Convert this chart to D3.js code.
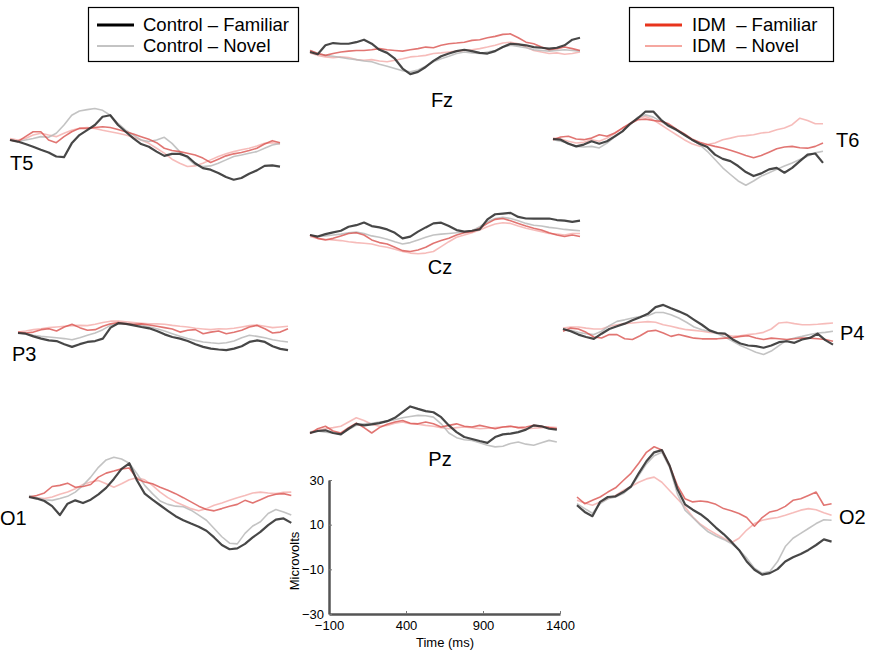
<!DOCTYPE html>
<html lang="en">
	<head>
		<meta charset="utf-8">
		<title>ERP waveforms</title>
		<script type="text/javascript" src="https://cdn.jsdelivr.net/npm/d3@7"></script>
		<style type="text/css">
			body{
				margin: 0;
				background: white;
			}
			svg text{
				font-family: "Liberation Sans", Arial, sans-serif;
				fill: black;
			}
			.lab{
				font-size: 20px;
			}
			.leg{
				font-size: 18.5px;
				white-space: pre;
			}
			.scale text{
				font-size: 13px;
			}
		</style>
	</head>
	<body>
		<div class="chart"></div>
		<script type="text/javascript">

			// sample times (ms), one every 50 ms
			var times = [-100,-50,0,50,100,150,200,250,300,350,400,450,500,550,600,650,700,750,800,850,
				900,950,1000,1050,1100,1150,1200,1250,1300,1350,1400,1450,1500,1550,1600,1650];

			var conditions = ["Control \u2013 Familiar", "Control \u2013 Novel", "IDM  \u2013 Familiar", "IDM  \u2013 Novel"];
			var scaleY = [30, 10, -10, -30];
			var scaleX = [-100, 400, 900, 1400];

			// microvolts, per electrode and condition
			var fzCtrlFam = [0,-1.0,3.0,4.0,3.7,3.7,4.4,5.5,3.7,1.0,-0.4,-3.0,-7.4,-9.9,-8.9,-6.7,-4.0,-1.9,-0.7,0.4,1.0,0.4,-0.4,-0.7,0.4,2.2,3.7,3.4,3.0,2.2,1.9,1.5,1.9,3.0,5.5,6.4];
			var fzCtrlNov = [0.7,-0.7,-1.5,-1.9,-2.5,-3.0,-3.4,-4.0,-4.4,-5.5,-6.4,-7.4,-8.4,-8.9,-8.1,-6.4,-4.4,-3.0,-1.9,-0.7,0,-0.4,-0.7,0,0.7,2.2,3.0,2.5,1.9,1.0,0.7,0.4,0.7,1.0,0.7,0.4];
			var fzIdmFam = [0.7,-0.7,-1.5,-0.7,0,0.4,0.7,0.7,1.0,1.5,1.0,0.7,0.4,1.0,1.5,2.2,1.9,3.0,3.7,4.0,4.4,5.2,5.5,6.4,7.0,7.9,8.1,6.4,4.4,3.7,2.2,1.0,1.5,2.2,1.5,0.7];
			var fzIdmNov = [-0.4,-1.5,-2.2,-2.5,-2.2,-2.5,-3.4,-3.7,-3.4,-4.0,-4.4,-3.7,-3.0,-2.2,-1.9,-1.5,-0.7,-0.4,0,0.4,0.7,1.0,1.5,2.2,3.0,4.0,4.4,3.7,2.2,0.7,0,-0.7,-0.4,-1.0,-0.7,0];

			var t5CtrlFam = [0,-0.7,-1.8,-3.0,-4.4,-5.6,-7.4,-7.7,-1.5,2.2,4.4,6.7,10.4,11.1,6.7,3.7,0.7,-1.8,-3.0,-5.2,-7.1,-6.2,-6.2,-7.4,-10.4,-12.6,-13.3,-14.8,-16.6,-17.8,-17.0,-15.1,-13.6,-11.6,-11.4,-11.9];
			var t5CtrlNov = [0,-0.7,0,0.7,1.5,1.2,3.0,6.7,11.1,13.0,13.6,14.1,13.3,11.1,7.4,4.4,2.2,0,-0.7,0,1.2,-1.5,-5.2,-8.1,-11.1,-11.9,-11.6,-10.4,-8.9,-7.4,-6.7,-5.9,-5.2,-3.7,-2.2,-1.5];
			var t5IdmFam = [0,-0.7,1.5,3.7,3.7,0,-1.2,1.5,3.7,5.2,5.2,5.6,5.9,5.6,4.7,3.7,2.7,1.5,0.3,-1.2,-3.7,-4.7,-5.2,-5.9,-6.7,-8.1,-10.1,-8.6,-7.1,-6.2,-5.6,-4.7,-3.7,-1.8,-0.3,-1.2];
			var t5IdmNov = [0.7,0,0.7,2.2,3.0,2.2,1.5,3.0,4.4,5.2,5.6,5.2,4.4,3.7,3.0,2.2,1.2,0,-1.5,-3.7,-5.9,-8.6,-10.4,-11.9,-11.6,-10.4,-8.9,-7.4,-6.2,-5.2,-4.4,-3.7,-2.7,-1.5,-1.2,-1.8];

			var t6CtrlFam = [0,-0.3,-2.1,-3.3,-2.5,-1.0,-2.1,-1.0,1.2,3.4,6.8,9.3,12.3,12.3,8.6,5.9,4.1,1.9,-0.3,-2.1,-3.6,-7.0,-8.9,-9.9,-12.1,-14.8,-16.6,-15.4,-13.6,-12.9,-15.1,-12.9,-9.9,-7.0,-6.5,-10.7];
			var t6CtrlNov = [-0.3,-1.0,-1.8,-3.3,-3.6,-3.3,-4.0,-1.8,0.9,3.4,6.4,9.8,10.8,9.8,7.9,5.6,3.9,1.9,-0.3,-2.5,-5.5,-9.2,-12.9,-15.9,-18.8,-20.7,-18.8,-16.6,-15.1,-13.6,-12.1,-10.7,-9.2,-7.7,-6.2,-5.5];
			var t6IdmFam = [-0.3,0.9,1.2,0,-0.3,0.4,1.9,1.2,2.7,4.9,6.8,8.6,8.9,8.3,7.9,6.8,4.4,2.4,0,-1.5,-2.5,-3.3,-4.0,-5.0,-6.2,-7.4,-8.4,-7.4,-5.9,-4.4,-3.6,-3.3,-3.9,-4.1,-3.3,-1.8];
			var t6IdmNov = [0.4,0,-1.0,-1.8,-1.5,-0.3,-1.0,0.4,2.4,4.9,7.1,9.3,10.1,8.6,6.4,4.1,1.9,-0.3,-2.1,-3.3,-2.5,-1.8,-0.3,0.4,1.2,1.5,1.9,2.7,3.0,4.1,4.9,6.4,9.3,8.3,6.8,6.8];

			var czCtrlFam = [0,-0.7,0.4,1.2,1.9,3.7,4.4,5.6,4.0,3.4,2.5,1.0,-1.5,-0.7,1.5,3.4,5.2,5.5,4.0,2.2,1.5,1.9,2.5,7.0,9.3,9.6,9.9,8.1,7.4,7.3,7.3,7.4,6.7,6.4,5.9,6.4];
			var czCtrlNov = [0,-0.7,-0.4,0,0.4,1.0,1.3,0.7,-0.4,-1.0,-1.9,-3.0,-4.0,-3.4,-2.2,-1.0,0,0.4,0.7,1.0,1.3,1.9,3.7,5.9,7.4,7.9,7.4,6.4,5.2,4.4,4.0,3.4,3.0,2.5,2.2,1.9];
			var czIdmFam = [0,-1.5,-2.2,-1.5,-0.4,0.7,1.0,0,-2.2,-3.4,-4.0,-5.5,-7.0,-7.4,-6.7,-5.5,-3.7,-2.5,-1.5,0,1.0,1.5,3.0,5.2,7.0,7.4,6.4,5.2,4.0,3.0,2.2,1.0,0,-0.7,0,-0.7];
			var czIdmNov = [-0.7,-1.5,-1.9,-2.2,-2.5,-3.0,-3.4,-3.7,-4.0,-4.9,-5.5,-6.4,-7.4,-8.1,-8.4,-8.1,-7.4,-5.2,-3.0,-1.0,0,1.0,2.2,3.7,4.9,5.5,5.2,4.0,3.0,2.2,1.5,0.7,0.4,0,0.7,0.7];

			var p3CtrlFam = [0,-0.3,-1.5,-2.5,-3.3,-3.6,-5.0,-6.2,-5.0,-4.0,-3.6,-2.5,2.4,4.4,4.1,3.4,2.7,2.1,0.9,-0.6,-1.8,-2.5,-3.6,-5.0,-6.2,-7.0,-7.4,-7.7,-7.0,-5.9,-4.0,-3.3,-4.0,-5.9,-7.1,-7.7];
			var p3CtrlNov = [0,-0.3,-1.0,-1.5,-1.8,-2.1,-2.5,-3.0,-2.1,-1.0,0,1.5,3.4,4.1,4.1,3.9,3.4,2.7,1.9,0.9,-0.3,-1.5,-2.5,-3.3,-4.0,-4.4,-4.7,-4.4,-3.6,-2.1,-1.0,-1.5,-2.1,-3.0,-3.6,-4.0];
			var p3IdmFam = [0.4,0,0.4,1.5,1.9,0.9,2.7,3.9,2.4,1.2,1.5,3.0,4.1,4.7,4.1,3.9,4.1,3.6,3.0,2.4,1.8,0.4,1.2,1.5,-0.3,0.4,0.9,-0.3,0.3,1.2,2.7,3.4,1.9,0,0.4,1.9];
			var p3IdmNov = [0.4,0.9,1.5,1.9,2.4,2.7,3.0,3.3,3.4,3.3,3.9,4.7,5.3,5.3,5.0,4.7,4.4,4.1,4.1,3.9,3.4,3.0,2.7,2.1,1.8,1.5,1.9,1.8,2.1,2.7,3.3,3.6,3.0,2.4,2.7,3.0];

			var p4CtrlFam = [0,-1.0,-2.5,-3.6,-4.4,-2.1,0,1.2,2.4,3.9,5.3,6.8,9.8,10.8,9.3,7.9,6.4,4.1,1.9,-0.6,-1.8,-2.1,-4.7,-6.5,-7.4,-7.7,-8.4,-7.4,-5.9,-5.5,-6.2,-4.7,-4.0,-2.1,-5.0,-7.0];
			var p4CtrlNov = [0,-0.6,-1.5,-2.1,-2.5,-1.0,1.5,3.4,4.1,4.9,5.6,5.9,7.4,7.4,6.4,4.9,3.0,0.9,-0.3,-1.0,-2.1,-3.6,-5.5,-7.4,-8.9,-10.4,-11.4,-9.9,-7.4,-5.0,-4.0,-3.3,-2.5,-1.8,-1.5,-1.0];
			var p4IdmFam = [-1.0,0.4,0,-1.5,-3.6,-4.0,-2.5,-2.5,-4.4,-4.7,-3.0,-1.0,-0.6,-1.8,-3.3,-2.5,-3.3,-4.1,-4.4,-4.4,-4.4,-4.1,-3.9,-3.3,-3.0,-4.0,-4.7,-4.1,-4.4,-4.7,-4.4,-4.0,-4.1,-4.4,-4.7,-5.5];
			var p4IdmNov = [0.4,0.9,0.9,0.4,0,0,1.2,1.9,2.4,2.7,3.0,3.3,3.0,1.9,1.2,0.4,-0.3,-0.6,-1.0,-1.5,-1.8,-2.5,-3.3,-3.0,-2.5,-2.1,-1.5,0,2.7,3.0,2.4,1.9,1.9,2.1,2.4,2.7];

			var pzCtrlFam = [0,0.9,1.2,0,-0.6,1.9,4.1,3.4,3.9,4.4,5.3,6.8,9.3,11.9,10.8,9.8,9.3,7.1,3.4,0.4,-1.8,-2.7,-3.6,-4.4,-1.8,-0.6,-0.3,0.4,1.5,3.4,3.0,1.9,1.5];
			var pzCtrlNov = [0.4,0.9,0.4,0,-0.3,1.5,3.4,4.1,4.4,4.9,5.3,5.9,6.8,7.4,7.9,7.7,7.1,4.1,0,-2.1,-3.0,-3.3,-4.4,-5.5,-6.2,-5.9,-4.7,-4.0,-5.0,-5.5,-4.4,-3.3,-4.0];
			var pzIdmFam = [-0.3,1.9,3.0,0.9,0,2.4,4.4,2.4,0,2.4,3.9,4.9,5.6,4.4,4.1,4.9,4.1,2.7,3.4,4.1,3.0,2.7,3.4,2.7,1.9,2.7,3.0,2.4,2.7,3.4,3.0,2.4,1.9];
			var pzIdmNov = [0.4,1.2,1.9,2.4,3.0,4.9,6.8,5.6,3.9,3.0,3.4,4.4,4.9,4.1,3.9,3.4,3.0,2.4,1.9,2.4,2.7,2.4,1.9,2.1,2.4,2.7,3.0,2.4,1.9,2.1,2.4,2.7,2.4];

			var o1CtrlFam = [0,-0.7,-1.8,-4.1,-8.1,-3.0,-1.5,-2.7,-1.2,1.2,4.1,8.1,12.6,15.1,7.4,1.5,-1.2,-3.7,-6.2,-8.6,-10.4,-11.9,-13.3,-15.1,-18.1,-21.5,-23.4,-23.0,-21.0,-18.1,-15.6,-12.6,-10.1,-9.6,-11.6];
			var o1CtrlNov = [0.7,-0.3,-1.2,-1.5,-0.7,0.3,2.2,5.2,8.9,13.3,16.6,17.8,17.0,15.1,10.4,5.2,1.5,-1.8,-3.3,-4.1,-4.4,-5.9,-8.1,-10.4,-14.1,-17.8,-20.7,-21.0,-16.3,-13.0,-11.1,-7.4,-5.6,-6.7,-8.1];
			var o1IdmFam = [0,0.7,1.8,4.7,5.2,6.2,4.4,4.7,5.6,8.9,10.7,11.6,12.6,13.0,8.1,6.7,5.9,4.4,3.0,1.5,-0.3,-2.2,-4.1,-5.6,-6.2,-5.2,-4.1,-3.3,-1.5,-2.7,-1.2,0.3,1.2,1.5,0.7];
			var o1IdmNov = [0,-0.3,-0.7,0,1.2,2.2,3.7,5.6,6.7,7.4,5.9,4.4,5.9,7.7,8.6,7.7,5.2,2.2,-0.3,-2.2,-3.7,-5.2,-6.2,-5.2,-3.7,-2.7,-1.5,-0.3,0.7,1.8,2.2,1.8,1.5,2.1,2.2];

			var o2CtrlFam = [-1.9,-4.9,-6.8,-0.4,1.8,2.1,4.0,6.5,12.4,17.8,21.8,22.8,15.9,5.5,-1.5,-3.9,-5.9,-8.6,-11.9,-14.8,-18.2,-21.9,-27.1,-30.8,-33.0,-32.3,-30.5,-27.1,-25.2,-23.7,-21.9,-19.7,-17.2,-18.2];
			var o2CtrlNov = [-1.2,-3.4,-5.5,-1.2,1.0,1.8,3.3,6.2,11.4,16.6,20.3,21.8,15.1,3.3,-4.1,-7.4,-10.8,-13.8,-15.7,-17.2,-19.0,-21.9,-25.6,-30.1,-32.3,-31.6,-27.1,-20.4,-16.7,-14.5,-12.3,-10.1,-8.4,-8.6];
			var o2IdmFam = [1.8,-1.2,0.3,1.8,4.0,5.9,9.2,12.4,16.9,21.8,24.3,22.8,15.9,7.0,1.0,-0.4,0,-0.4,-1.5,-3.4,-4.4,-5.6,-7.4,-11.3,-7.4,-4.9,-4.1,-2.4,0.3,1.0,2.5,4.0,-1.9,-1.2];
			var o2IdmNov = [0.3,-0.9,-1.9,-0.4,1.0,2.5,4.7,6.5,8.4,9.9,10.7,8.4,4.7,1.0,-2.7,-7.1,-10.4,-12.7,-14.8,-16.7,-18.7,-16.7,-13.0,-10.1,-8.6,-7.9,-7.4,-6.4,-5.3,-4.1,-3.4,-3.9,-5.3,-6.4];

			var w = 870;
			var h = 651;
			var panelW = 270;
			var uvPx = 2.233; // pixels per microvolt

			var styles = [
				{color: "#333333", width: 2.2, opacity: 0.9},
				{color: "#b8b8b8", width: 1.6, opacity: 0.85},
				{color: "#d9534f", width: 1.6, opacity: 0.8},
				{color: "#f5b0ae", width: 1.6, opacity: 0.85}
			];
			// draw order: novel IDM, novel control, familiar IDM, familiar control
			var order = [3, 1, 2, 0];

			// name, left edge, zero line, label placement
			var panels = [
				{name: "Fz", x: 310, y: 52, series: [fzCtrlFam, fzCtrlNov, fzIdmFam, fzIdmNov], lx: 442, ly: 107, anchor: "middle"},
				{name: "T5", x: 10, y: 140, series: [t5CtrlFam, t5CtrlNov, t5IdmFam, t5IdmNov], lx: 10, ly: 170, anchor: "start"},
				{name: "T6", x: 553, y: 139, series: [t6CtrlFam, t6CtrlNov, t6IdmFam, t6IdmNov], lx: 836, ly: 147, anchor: "start"},
				{name: "Cz", x: 310, y: 235, series: [czCtrlFam, czCtrlNov, czIdmFam, czIdmNov], lx: 440, ly: 274, anchor: "middle"},
				{name: "P3", x: 18, y: 333, series: [p3CtrlFam, p3CtrlNov, p3IdmFam, p3IdmNov], lx: 12, ly: 361, anchor: "start"},
				{name: "P4", x: 563, y: 329, series: [p4CtrlFam, p4CtrlNov, p4IdmFam, p4IdmNov], lx: 840, ly: 340, anchor: "start"},
				{name: "Pz", x: 310, y: 433, series: [pzCtrlFam, pzCtrlNov, pzIdmFam, pzIdmNov], lx: 440, ly: 466, anchor: "middle"},
				{name: "O1", x: 29, y: 497, series: [o1CtrlFam, o1CtrlNov, o1IdmFam, o1IdmNov], lx: 0, ly: 525, anchor: "start"},
				{name: "O2", x: 577, y: 501, series: [o2CtrlFam, o2CtrlNov, o2IdmFam, o2IdmNov], lx: 839, ly: 524, anchor: "start"}
			];

			var svg = d3.select("div.chart")
						.append("svg")
						.attr("width", w)
						.attr("height", h);

			panels.forEach(function(p){
				var xScale = d3.scaleLinear()
							.domain([times[0], times[times.length-1]])
							.range([p.x, p.x + panelW]);
				var yScale = d3.scaleLinear()
							.domain([-30, 30])
							.range([p.y + 30*uvPx, p.y - 30*uvPx]);
				var line = d3.line()
							.x((d,i) => xScale(times[i]))
							.y((d) => yScale(d));

				var g = svg.append("g").attr("class", "panel");
				order.forEach(function(k){
					g.append("path")
						.datum(p.series[k])
						.attr("d", line)
						.attr("fill", "none")
						.attr("stroke", styles[k].color)
						.attr("stroke-width", styles[k].width)
						.attr("stroke-opacity", styles[k].opacity)
						.attr("stroke-linejoin", "round");
				});

				svg.append("text")
					.attr("class", "lab")
					.attr("x", p.lx)
					.attr("y", p.ly)
					.attr("text-anchor", p.anchor)
					.text(p.name);
			});

			// legends
			var legends = [
				{x: 88, bw: 210, lx: 9, tx: 55, items: [0, 1], lineStyle: [{c: "#000", w: 3}, {c: "#888", w: 1}]},
				{x: 629, bw: 204, lx: 16, tx: 63, items: [2, 3], lineStyle: [{c: "#e8341c", w: 3}, {c: "#f28a80", w: 1.5}]}
			];
			legends.forEach(function(l){
				var lg = svg.append("g").attr("transform", "translate(" + l.x + ",7)");
				lg.append("rect")
					.attr("x", 0.5).attr("y", 0.5)
					.attr("width", l.bw).attr("height", 54)
					.attr("fill", "white")
					.attr("stroke", "black")
					.attr("stroke-width", 1.2);
				l.items.forEach(function(k, j){
					var ly = 18 + j*21;
					lg.append("line")
						.attr("x1", l.lx).attr("x2", l.lx + 37)
						.attr("y1", ly).attr("y2", ly)
						.attr("stroke", l.lineStyle[j].c)
						.attr("stroke-width", l.lineStyle[j].w);
					lg.append("text")
						.attr("class", "leg")
						.attr("x", l.tx)
						.attr("y", ly + 6)
						.text(conditions[k]);
				});
			});

			// scale axes
			var sx = d3.scaleLinear().domain([-100, 1400]).range([329, 560]);
			var sy = d3.scaleLinear().domain([-30, 30]).range([614, 480]);

			var scale = svg.append("g").attr("class", "scale");

			scale.append("g")
				.attr("transform", "translate(0,614)")
				.call(d3.axisBottom(sx).tickValues(scaleX).tickSizeInner(-3).tickSizeOuter(0).tickPadding(7).tickFormat(d3.format("d")));

			scale.append("g")
				.attr("transform", "translate(329,0)")
				.call(d3.axisLeft(sy).tickValues(scaleY).tickSizeInner(-3).tickSizeOuter(0).tickPadding(5).tickFormat(d3.format("d")));

			scale.selectAll(".domain")
				.attr("stroke", "#555")
				.attr("stroke-width", 2.5);
			scale.selectAll(".tick line")
				.attr("stroke", "#777");

			scale.append("text")
				.attr("x", 445)
				.attr("y", 647)
				.attr("text-anchor", "middle")
				.text("Time (ms)");

			scale.append("text")
				.attr("transform", "translate(299,561) rotate(-90)")
				.attr("text-anchor", "middle")
				.text("Microvolts");

		</script>
	</body>
</html>
